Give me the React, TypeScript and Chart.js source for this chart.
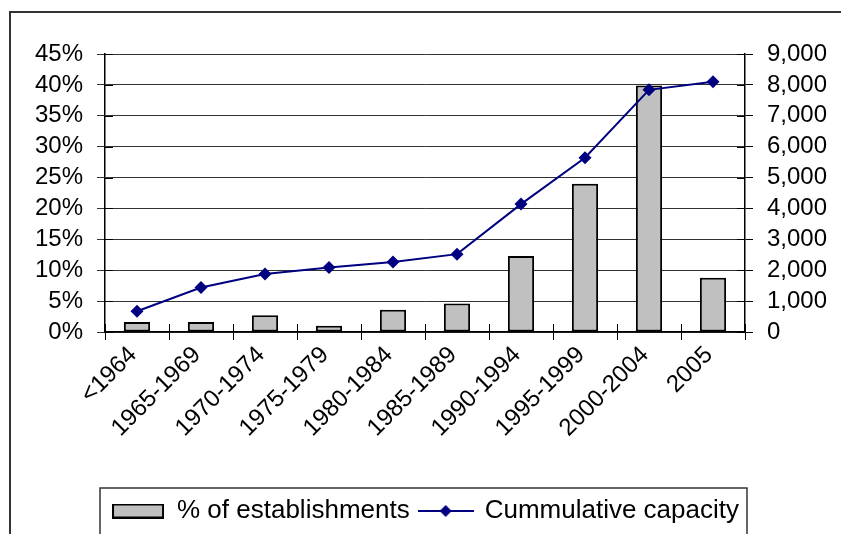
import React, { useEffect, useRef } from 'react';
import { Chart, registerables } from 'chart.js';

Chart.register(...registerables);

const categories = ['<1964', '1965-1969', '1970-1974', '1975-1979', '1980-1984', '1985-1989', '1990-1994', '1995-1999', '2000-2004', '2005'];
const pctEstablishments = [1.6, 1.6, 2.7, 1.0, 3.6, 4.6, 12.3, 24.0, 39.9, 8.8];
const cumulativeCapacity = [670, 1440, 1880, 2090, 2270, 2520, 4140, 5640, 7840, 8100];
const leftTickLabels = ['0%', '5%', '10%', '15%', '20%', '25%', '30%', '35%', '40%', '45%'];
const rightTickLabels = ['0', '1,000', '2,000', '3,000', '4,000', '5,000', '6,000', '7,000', '8,000', '9,000'];
const seriesNames = ['% of establishments', 'Cummulative capacity'];

const FONT = "'Liberation Sans', Arial, sans-serif";
const FS = 24;
const LEGEND_FS = 26;

export default function App() {
  const ref = useRef<HTMLCanvasElement>(null);

  useEffect(() => {
    const canvas = ref.current;
    if (!canvas) return;

    const barSw = document.createElement('canvas');
    barSw.width = 52; barSw.height = 15;
    const b = barSw.getContext('2d')!;
    b.fillStyle = '#c0c0c0';
    b.fillRect(1, 1, 50, 13);
    b.strokeStyle = '#000';
    b.lineWidth = 2;
    b.strokeRect(1, 1, 50, 13);

    const lineSw = document.createElement('canvas');
    lineSw.width = 56; lineSw.height = 14;
    const l = lineSw.getContext('2d')!;
    l.strokeStyle = '#000080';
    l.fillStyle = '#000080';
    l.lineWidth = 2;
    l.beginPath(); l.moveTo(0, 7); l.lineTo(56, 7); l.stroke();
    l.beginPath(); l.moveTo(28, 1); l.lineTo(34, 7); l.lineTo(28, 13); l.lineTo(22, 7); l.closePath(); l.fill();

    const framePlugin = {
      id: 'frame',
      beforeDraw(chart: any) {
        const ctx = chart.ctx;
        ctx.save();
        ctx.fillStyle = '#fff';
        ctx.fillRect(0, 0, chart.width, chart.height);
        ctx.strokeStyle = '#333';
        ctx.lineWidth = 2;
        ctx.beginPath();
        ctx.moveTo(10, chart.height + 2);
        ctx.lineTo(10, 12);
        ctx.lineTo(chart.width + 2, 12);
        ctx.stroke();
        ctx.restore();
      },
    };

    const innerTicks = {
      id: 'innerTicks',
      afterDatasetsDraw(chart: any) {
        const ctx = chart.ctx;
        const x = chart.scales.x;
        const yl = chart.scales.yL;
        const yr = chart.scales.yR;
        const area = chart.chartArea;
        ctx.save();
        ctx.strokeStyle = '#000';
        ctx.lineWidth = 1;
        ctx.beginPath();
        for (let i = 0; i <= categories.length; i++) {
          const px = Math.round(x.getPixelForValue(i - 0.5)) + 0.5;
          ctx.moveTo(px, area.bottom);
          ctx.lineTo(px, area.bottom - 8);
        }
        yl.ticks.forEach((t: any) => {
          const py = Math.round(yl.getPixelForValue(t.value)) + 0.5;
          ctx.moveTo(area.left, py);
          ctx.lineTo(area.left + 8, py);
        });
        yr.ticks.forEach((t: any) => {
          const py = Math.round(yr.getPixelForValue(t.value)) + 0.5;
          ctx.moveTo(area.right, py);
          ctx.lineTo(area.right - 8, py);
        });
        ctx.stroke();
        ctx.restore();
      },
    };

    const legendBox = {
      id: 'legendBox',
      afterDraw(chart: any) {
        const hb = chart.legend?.legendHitBoxes;
        if (!hb || !hb.length) return;
        const last = hb[hb.length - 1];
        const left = hb[0].left - 12;
        const right = last.left + last.width + 8;
        const top = hb[0].top + hb[0].height / 2 - 23;
        const ctx = chart.ctx;
        ctx.save();
        ctx.strokeStyle = '#333';
        ctx.lineWidth = 1.5;
        ctx.strokeRect(left, top, right - left, 200);
        ctx.restore();
      },
    };

    const chart = new Chart(canvas, {
      type: 'bar',
      data: {
        labels: categories,
        datasets: [
          {
            type: 'bar',
            label: seriesNames[0],
            data: pctEstablishments,
            yAxisID: 'yL',
            backgroundColor: '#c0c0c0',
            borderColor: '#000',
            borderWidth: 2,
            borderSkipped: false,
            barPercentage: 0.5,
            categoryPercentage: 0.82,
            order: 2,
          },
          {
            type: 'line',
            label: seriesNames[1],
            data: cumulativeCapacity,
            yAxisID: 'yR',
            borderColor: '#000080',
            backgroundColor: '#000080',
            borderWidth: 2,
            pointStyle: 'rectRot',
            pointRadius: 6.5,
            pointBorderWidth: 0,
            pointBackgroundColor: '#000080',
            tension: 0,
            order: 1,
          } as any,
        ],
      },
      options: {
        responsive: false,
        animation: false,
        devicePixelRatio: 1,
        layout: { padding: { top: 54, left: 10, right: 0, bottom: 0 } },
        scales: {
          x: {
            type: 'category',
            offset: true,
            grid: { offset: true, drawOnChartArea: false, drawTicks: true, tickLength: 8, color: '#000', lineWidth: 1 },
            border: { display: true, color: '#000', width: 1.5 },
            ticks: {
              minRotation: 45,
              maxRotation: 45,
              autoSkip: false,
              padding: 1,
              labelOffset: -4,
              color: '#000',
              font: { family: FONT, size: FS },
            },
            afterFit: (s: any) => { s.height = 156; },
          },
          yL: {
            type: 'linear',
            position: 'left',
            min: 0,
            max: 45,
            ticks: {
              stepSize: 5,
              autoSkip: false,
              padding: 14,
              color: '#000',
              font: { family: FONT, size: FS },
              callback: (_v: any, i: number) => leftTickLabels[i],
            },
            grid: { color: '#333', lineWidth: 1, tickLength: 8, drawTicks: true },
            border: { display: true, color: '#000', width: 1.5 },
            afterFit: (s: any) => { s.width = 95; },
          },
          yR: {
            type: 'linear',
            position: 'right',
            min: 0,
            max: 9000,
            ticks: {
              stepSize: 1000,
              autoSkip: false,
              padding: 14,
              color: '#000',
              font: { family: FONT, size: FS },
              callback: (_v: any, i: number) => rightTickLabels[i],
            },
            grid: { drawOnChartArea: false, color: '#000', tickLength: 8, drawTicks: true },
            border: { display: true, color: '#000', width: 1.5 },
            afterFit: (s: any) => { s.width = 96; },
          },
        },
        plugins: {
          tooltip: { enabled: false },
          title: { display: false },
          legend: {
            display: true,
            position: 'bottom',
            labels: {
              usePointStyle: true,
              pointStyleWidth: 52,
              padding: 10,
              color: '#000',
              font: { family: FONT, size: LEGEND_FS },
              generateLabels: () => [
                { text: seriesNames[0], pointStyle: barSw, fillStyle: '#c0c0c0', strokeStyle: '#000', lineWidth: 0, hidden: false, datasetIndex: 0 },
                { text: seriesNames[1], pointStyle: lineSw, fillStyle: '#000080', strokeStyle: '#000080', lineWidth: 0, hidden: false, datasetIndex: 1 },
              ] as any,
            },
          },
        },
      },
      plugins: [framePlugin, innerTicks, legendBox],
    });

    return () => chart.destroy();
  }, []);

  return (
    <div style={{ position: 'absolute', left: 0, top: 0, width: 841, height: 534, background: '#fff' }}>
      <canvas ref={ref} width={841} height={534} style={{ display: 'block' }} />
    </div>
  );
}
